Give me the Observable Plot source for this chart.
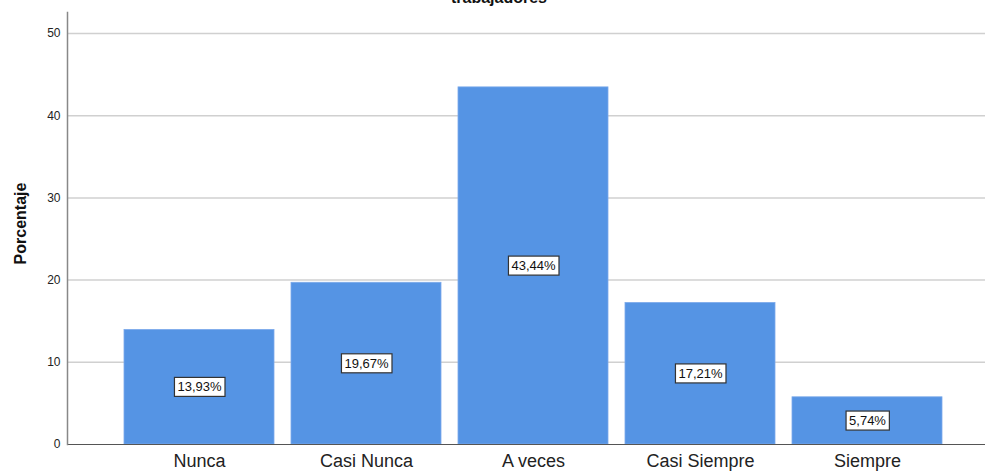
<!DOCTYPE html>
<html><head><meta charset="utf-8">
<script src="https://cdn.jsdelivr.net/npm/d3@7"></script>
<script src="https://cdn.jsdelivr.net/npm/@observablehq/plot@0.6"></script>
<style>body{margin:0;background:#fff;}</style>
</head><body><div id="chart"></div>
<script>
const categories = ["Nunca", "Casi Nunca", "A veces", "Casi Siempre", "Siempre"];
const values = [13.93, 19.67, 43.44, 17.21, 5.74];
const yTicks = [0, 10, 20, 30, 40, 50];
const title = "trabajadores";
const yLabel = "Porcentaje";

const data = categories.map((c, i) => ({
  cat: c, value: values[i],
  label: values[i].toFixed(2).replace(".", ",") + "%"
}));

const chart = Plot.plot({
  width: 985, height: 473,
  marginLeft: 67, marginRight: 0, marginTop: 12, marginBottom: 29,
  style: {fontFamily: "'Liberation Sans', Arial, sans-serif", background: "#fff", overflow: "visible"},
  x: {domain: categories, range: [122, 944], paddingInner: 0.1, paddingOuter: 0, label: null},
  y: {domain: [0, 52.55], label: null},
  marks: [
    Plot.gridY(yTicks.filter(d => d > 0), {stroke: "#d0d0d0", strokeOpacity: 1, strokeWidth: 1.5}),
    Plot.barY(data, {x: "cat", y: "value", fill: "#5594e4", stroke: "#7aa9ea", strokeWidth: 0.8}),
    Plot.ruleY([0], {stroke: "#555", strokeWidth: 1.2}),
    Plot.frame({anchor: "left", stroke: "#888", strokeWidth: 1.5}),
    Plot.axisY(yTicks, {tickSize: 0, tickPadding: 7, fontSize: 12, fill: "#222", label: null}),
    Plot.axisX({tickSize: 0, tickPadding: 10, fontSize: 18, fill: "#222", label: null}),
    Plot.text(data, {x: "cat", y: d => d.value / 2, text: "label", fontSize: 13, fill: "#111", className: "vlabel"}),
    Plot.text([yLabel], {frameAnchor: "left", textAnchor: "middle", dx: -47, dy: -5, rotate: -90, fontWeight: "bold", fontSize: 16, fill: "#111"})
  ]
});

document.getElementById("chart").appendChild(chart);

// title (partially cut at top as in the original)
d3.select(chart).append("text")
  .attr("x", 499).attr("y", 3)
  .attr("text-anchor", "middle")
  .attr("font-weight", "bold").attr("font-size", 16).attr("fill", "#111")
  .text(title);

// boxes behind value labels
d3.select(chart).selectAll("g.vlabel text").each(function() {
  const b = this.getBBox();
  const px = 3, py = 2;
  d3.select(this.parentNode).insert("rect", () => this)
    .attr("x", b.x - px).attr("y", b.y - py)
    .attr("width", b.width + 2 * px).attr("height", b.height + 2 * py)
    .attr("transform", this.getAttribute("transform"))
    .attr("fill", "#fff").attr("stroke", "#333").attr("stroke-width", 1.2);
});
</script>
</body></html>
